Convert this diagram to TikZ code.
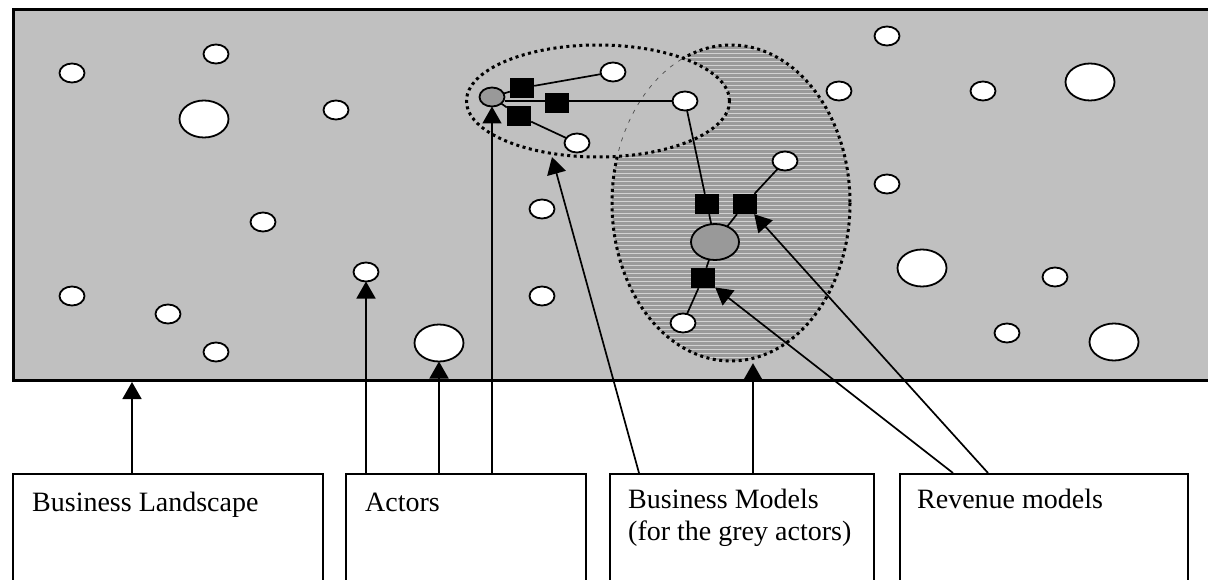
\documentclass[tikz,border=0pt]{standalone}
\usepackage{fontspec}
\setmainfont{Liberation Serif}
\usetikzlibrary{arrows.meta,shapes.geometric,calc}
\definecolor{bg}{HTML}{C0C0C0}
\definecolor{hatchbg}{HTML}{9A9A9A}
\definecolor{hatchln}{HTML}{D2D2D2}
\definecolor{greyactor}{HTML}{999999}
\begin{document}
\begin{tikzpicture}[x=1pt,y=-1pt,
  actor/.style={ellipse,draw=black,line width=1.8pt,fill=white,inner sep=0pt,outer sep=0pt,minimum width=25pt,minimum height=19pt},
  bigactor/.style={actor,minimum width=49pt,minimum height=37pt},
  gactor/.style={actor,fill=greyactor},
  rm/.style={rectangle,fill=black,inner sep=0pt,minimum width=24pt,minimum height=20pt},
  link/.style={line width=1.7pt},
  arr/.style={line width=1.7pt,-{Triangle[width=19pt,length=17pt]}},
  labelbox/.style={rectangle,draw=black,line width=1.8pt,fill=white,anchor=north west,inner sep=0pt},
  lbl/.style={anchor=base west,inner sep=0pt,font=\fontsize{28}{33}\selectfont},
  dottedrim/.style={line width=3pt,dash pattern=on 3pt off 3.5pt},
]
\useasboundingbox (0,0) rectangle (1208,580);
% landscape
\node[draw=black,line width=3pt,fill=bg,rectangle,anchor=north west,inner sep=0pt,minimum width=1212pt,minimum height=371pt] (land) at (12,8) {};
% business model area (vertical)
\node[ellipse,inner sep=0pt,minimum width=238pt,minimum height=316pt,fill=hatchbg,
  path picture={\foreach \k in {0,...,82}{\draw[hatchln,line width=0.8pt] ([yshift=-\k*4pt]path picture bounding box.north west) -- ([yshift=-\k*4pt]path picture bounding box.north east);}}] (bmv) at (731,203) {};
\draw[dottedrim] (731,203) ellipse [x radius=119, y radius=158];
% business model area (horizontal)
\node[ellipse,inner sep=0pt,minimum width=263pt,minimum height=112pt,fill=bg,draw=black,dottedrim] (bmh) at (598,101) {};
\begin{scope}
  \clip (598,101) ellipse [x radius=130, y radius=54.5];
  \draw[black!70,line width=0.7pt,dash pattern=on 4pt off 6pt] (731,203) ellipse [x radius=119, y radius=158];
\end{scope}
% actors
\node[actor] (w1) at (72,73) {};
\node[actor] (w2) at (216,54) {};
\node[bigactor] (w3) at (204,119) {};
\node[actor] (w4) at (336,110) {};
\node[actor] (w5) at (263,222) {};
\node[actor] (w6) at (366,272) {};
\node[actor] (w7) at (72,296) {};
\node[actor] (w8) at (168,314) {};
\node[actor] (w9) at (216,352) {};
\node[actor] (w10) at (542,209) {};
\node[actor] (w11) at (542,296) {};
\node[bigactor] (w12) at (439,343) {};
\node[actor] (w13) at (887,36) {};
\node[actor] (w14) at (839,91) {};
\node[actor] (w15) at (983,91) {};
\node[bigactor] (w16) at (1090,82) {};
\node[actor] (w17) at (887,184) {};
\node[bigactor] (w18) at (922,268) {};
\node[actor] (w19) at (1055,277) {};
\node[actor] (w20) at (1007,333) {};
\node[bigactor] (w21) at (1114,342) {};
% grey actor 1 and its model
\node[gactor] (ga) at (492,97) {};
\node[rm] (s1) at (522,88) {};
\node[rm] (s2) at (557,103) {};
\node[rm] (s3) at (519,116) {};
\node[actor] (w22) at (613,72) {};
\node[actor] (w23) at (685,101) {};
\node[actor] (w24) at (577,143) {};
% grey actor 2 and its model
\node[gactor,minimum width=48pt,minimum height=36pt] (gb) at (715,242) {};
\node[rm] (s4) at (707,204) {};
\node[rm] (s5) at (745,204) {};
\node[rm] (s6) at (703,278) {};
\node[actor] (w25) at (785,161) {};
\node[actor] (w26) at (683,323) {};
% links
\draw[link] (ga) -- (s1) -- (w22);
\draw[link] (ga.east |- w23) -- (s2.west |- w23);
\draw[link] (s2.east |- w23) -- (w23);
\draw[link] (ga) -- (s3) -- (w24);
\draw[link] (w23) -- (s4) -- (gb);
\draw[link] (gb) -- (s5) -- (w25);
\draw[link] (gb) -- (s6) -- (w26);
% label boxes
\node[labelbox,minimum width=310pt,minimum height=130pt] (b1) at (12,473) {};
\node[labelbox,minimum width=240pt,minimum height=130pt] (b2) at (345,473) {};
\node[labelbox,minimum width=264pt,minimum height=130pt] (b3) at (609,473) {};
\node[labelbox,minimum width=288pt,minimum height=130pt] (b4) at (899,473) {};
\node[lbl] (t1) at (32,511) {Business Landscape};
\node[lbl] (t2) at (365,511) {Actors};
\node[lbl] (t3) at (628,508) {Business Models};
\node[lbl] (t3b) at (628,540) {(for the grey actors)};
\node[lbl] (t4) at (917,508) {Revenue models};
% arrows
\coordinate (a0) at (132,473);
\coordinate (a1) at (w6.south |- b2.north);
\coordinate (a2) at (w12.south |- b2.north);
\coordinate (a3) at (ga.south |- b2.north);
\coordinate (a4) at (639,473);
\coordinate (bmtip) at (552,157);
\coordinate (a5) at (753,473);
\coordinate (a6) at (953,473);
\coordinate (a7) at (988,473);
\draw[arr] (a0) -- (a0 |- land.south);
\draw[arr] (a1) -- (w6.south);
\draw[arr] (a2) -- (w12.south);
\draw[arr] (a3) -- (ga.south);
\draw[arr] (a4) -- (bmtip);
\draw[arr] (a5) -- ($(a5 |- bmv.south)+(0,2)$);
\draw[arr] (a6) -- (s6);
\draw[arr] (a7) -- (s5);
\end{tikzpicture}
\end{document}
